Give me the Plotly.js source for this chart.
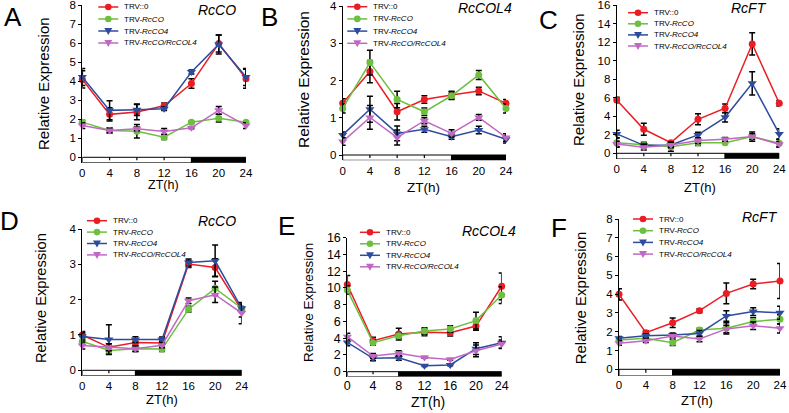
<!DOCTYPE html>
<html>
<head>
<meta charset="utf-8">
<script src="https://cdn.plot.ly/plotly-3.0.1.min.js"></script>
<style>html,body{margin:0;padding:0;background:#fff;}</style>
</head>
<body>
<div id="chart" style="width:789px;height:413px;"></div>
<script>
const W = 789, H = 413;

// x values (ZT hours)
const zt = [0, 4, 8, 12, 16, 20, 24];
const seriesNames = ['TRV::0', 'TRV-<i>RcCO</i>', 'TRV-<i>RcCO4</i>', 'TRV-<i>RcCO/RcCOL4</i>'];
const panelLetters = ['A', 'B', 'C', 'D', 'E', 'F'];
const geneNames = ['RcCO', 'RcCOL4', 'RcFT', 'RcCO', 'RcCOL4', 'RcFT'];
const lightEnd = [16, 16, 16, 8, 8, 8];   // end of light period (h)

// rows: TRV::0, TRV-RcCO, TRV-RcCO4, TRV-RcCO/RcCOL4
const meanA = [
    [4.10, 2.26, 2.38, 2.71, 3.88, 5.99, 4.14],
    [1.85, 1.41, 1.37, 1.06, 1.85, 2.06, 1.85],
    [4.23, 2.47, 2.50, 2.56, 4.49, 5.94, 4.23],
    [1.67, 1.41, 1.50, 1.36, 1.55, 2.47, 1.67]
];
const sdA = [
    [0.45, 0.35, 0.40, 0.15, 0.25, 0.45, 0.50],
    [0.10, 0.15, 0.35, 0.12, 0.05, 0.20, 0.08],
    [0.45, 0.50, 0.30, 0.10, 0.10, 0.50, 0.45],
    [0.15, 0.10, 0.10, 0.15, 0.05, 0.20, 0.15]
];
const meanB = [
    [1.39, 2.24, 1.16, 1.49, 1.61, 1.72, 1.39],
    [1.25, 2.48, 1.49, 1.16, 1.59, 2.15, 1.25],
    [0.54, 1.23, 0.58, 0.69, 0.49, 0.67, 0.42],
    [0.36, 1.01, 0.47, 0.92, 0.58, 1.01, 0.47]
];
const sdB = [
    [0.12, 0.30, 0.22, 0.10, 0.10, 0.10, 0.10],
    [0.12, 0.33, 0.22, 0.10, 0.10, 0.12, 0.12],
    [0.08, 0.35, 0.20, 0.08, 0.07, 0.10, 0.10],
    [0.10, 0.32, 0.20, 0.08, 0.10, 0.08, 0.10]
];
const meanC = [
    [5.76, 2.59, 1.15, 3.67, 4.86, 11.8, 5.40],
    [1.15, 0.90, 0.72, 1.15, 1.15, 1.80, 1.08],
    [2.09, 0.86, 0.90, 1.98, 3.88, 7.55, 2.09],
    [1.00, 0.65, 0.90, 1.37, 1.51, 1.80, 0.97]
];
const sdC = [
    [0.30, 0.65, 0.10, 0.60, 0.45, 1.20, 0.30],
    [0.50, 0.30, 0.50, 0.30, 0.10, 0.50, 0.40],
    [0.40, 0.20, 0.20, 0.30, 0.50, 1.25, 0.55],
    [0.30, 0.30, 0.30, 0.30, 0.20, 0.30, 0.30]
];
const meanD = [
    [1.00, 0.65, 0.79, 0.77, 3.01, 2.91, 1.71],
    [0.82, 0.56, 0.61, 0.60, 1.73, 2.32, 1.76],
    [0.96, 0.87, 0.87, 0.87, 3.05, 3.10, 1.76],
    [0.70, 0.65, 0.61, 0.71, 1.97, 2.14, 1.62]
];
const sdD = [
    [0.10, 0.10, 0.08, 0.07, 0.10, 0.25, 0.20],
    [0.10, 0.10, 0.08, 0.07, 0.08, 0.20, 0.10],
    [0.10, 0.42, 0.08, 0.07, 0.10, 0.45, 0.10],
    [0.10, 0.10, 0.08, 0.07, 0.08, 0.22, 0.30]
];
const meanE = [
    [10.4, 3.70, 4.50, 4.70, 4.66, 5.45, 10.2],
    [9.75, 3.46, 4.30, 4.86, 5.10, 6.10, 9.15],
    [3.50, 1.60, 1.67, 0.72, 0.80, 2.75, 3.46],
    [4.18, 1.87, 2.19, 1.71, 1.47, 2.50, 3.30]
];
const sdE = [
    [1.10, 0.40, 0.70, 0.40, 0.40, 0.50, 1.60],
    [0.50, 0.30, 0.30, 0.40, 0.40, 1.00, 1.00],
    [0.40, 0.30, 0.30, 0.10, 0.10, 0.70, 0.70],
    [0.40, 0.30, 0.30, 0.10, 0.10, 0.70, 0.50]
];
const meanF = [
    [3.99, 1.95, 2.48, 3.12, 4.04, 4.54, 4.70],
    [1.56, 1.65, 1.42, 2.09, 2.18, 2.54, 2.66],
    [1.65, 1.79, 1.83, 1.91, 2.84, 3.07, 3.01],
    [1.38, 1.52, 1.77, 1.61, 2.15, 2.32, 2.18]
];
const sdF = [
    [0.30, 0.10, 0.25, 0.10, 0.55, 0.25, 0.93],
    [0.10, 0.10, 0.15, 0.10, 0.30, 0.20, 0.25],
    [0.10, 0.10, 0.10, 0.15, 0.28, 0.20, 0.35],
    [0.10, 0.10, 0.10, 0.15, 0.20, 0.20, 0.25]
];
const yMax = [8, 4, 16, 4, 16, 8];
const yStep = [1, 1, 2, 1, 2, 1];

const means = [meanA, meanB, meanC, meanD, meanE, meanF];
const sds = [sdA, sdB, sdC, sdD, sdE, sdF];

const colors = ['#ec1c24', '#6cbf3f', '#2d4c9e', '#c068c4'];
const symbols = ['circle', 'circle', 'triangle-down', 'triangle-down'];
const font = 'Arial, "Liberation Sans", sans-serif';

// pixel boxes of each panel: x of ZT0 / ZT24, y of top tick, y of zero, y of bar bottom
const boxes = [
    {l: 82.3, r: 246, top: 5.3, zero: 157.3, bot: 162.7, tick: 11.5, stand: 2},
    {l: 342.7, r: 506, top: 6, zero: 155, bot: 160.3, tick: 11.5, stand: 2},
    {l: 616.7, r: 779.3, top: 5, zero: 153.3, bot: 158.8, tick: 11.5, stand: 2},
    {l: 82.3, r: 241.7, top: 229, zero: 370.3, bot: 375.7, tick: 11.5, stand: 2},
    {l: 347.3, r: 501.7, top: 237.7, zero: 371.7, bot: 376.5, tick: 12.5, stand: 0},
    {l: 619, r: 780, top: 219, zero: 369.3, bot: 375.5, tick: 11.5, stand: 1}
];
// decoration positions (px)
const letterPos = [[12.7, 17.3], [269.3, 17.3], [548.3, 20], [9.3, 220.7], [286, 226], [559.3, 228.3]];
const genePos = [[217, 10], [484.7, 8.3], [749, 8.3], [216.7, 220.7], [488.7, 230.7], [760.3, 216.7]];
const yTitlePos = [[43, 84, 15], [303, 80, 15.5], [578, 80, 15], [41.7, 298.3, 14.7], [308.3, 302.7, 13.5], [580, 298.3, 15]];
const xTitlePos = [[163, 184.5, 12.5], [423.3, 187, 13.5], [700, 187, 13], [161.7, 399.3, 13], [428.3, 401.5, 14], [696.7, 400.5, 13]];
const legendPos = [[98.3, 7, 12], [347.3, 6.7, 12.2], [628, 12.7, 11.1], [87, 220.7, 11.4], [360, 232.3, 11.5], [633, 219, 11.7]];

const px = v => v / W;
const py = v => 1 - v / H;

const traces = [];
const layout = {
    width: W, height: H,
    margin: {l: 0, r: 0, t: 0, b: 0},
    paper_bgcolor: '#fff', plot_bgcolor: 'rgba(0,0,0,0)',
    showlegend: false,
    font: {family: font, color: '#000'},
    shapes: [], annotations: []
};

for (let p = 0; p < 6; p++) {
    const s = p === 0 ? '' : String(p + 1);
    const b = boxes[p];
    const pad = (b.bot - b.zero) / (b.zero - b.top) * yMax[p];

    for (let k = 0; k < 4; k++) {
        traces.push({
            x: zt, y: means[p][k],
            type: 'scatter', mode: 'lines+markers',
            xaxis: 'x' + s, yaxis: 'y' + s,
            name: seriesNames[k], cliponaxis: false,
            line: {color: colors[k], width: 1.5},
            marker: {symbol: symbols[k], size: k < 2 ? 7 : 8, color: colors[k]},
            error_y: {type: 'data', array: sds[p][k], visible: true, color: '#000', thickness: 1.5, width: 3}
        });
    }

    layout['xaxis' + s] = {
        domain: [px(b.l), px(b.r)], anchor: 'y' + s,
        range: [0, 24], tickvals: zt, ticks: '', ticklabelstandoff: b.stand,
        showline: false, showgrid: false, zeroline: false,
        tickfont: {size: b.tick, family: font}
    };
    layout['yaxis' + s] = {
        domain: [py(b.bot), py(b.top)], anchor: 'x' + s,
        range: [-pad, yMax[p]], tick0: 0, dtick: yStep[p],
        ticks: 'outside', ticklen: 3, tickwidth: 1, tickcolor: '#000',
        ticklabeloverflow: 'allow',
        showline: true, linecolor: '#000', linewidth: 1,
        showgrid: false, zeroline: false,
        tickfont: {size: b.tick, family: font}
    };

    // light / dark bar with small ticks every 4 h in the light part
    layout.shapes.push({type: 'rect', xref: 'x' + s, yref: 'y' + s, x0: 0, x1: lightEnd[p], y0: -pad, y1: 0,
        fillcolor: '#fff', line: {color: '#000', width: 1}});
    layout.shapes.push({type: 'rect', xref: 'x' + s, yref: 'y' + s, x0: lightEnd[p], x1: 24, y0: -pad, y1: 0,
        fillcolor: '#000', line: {color: '#000', width: 1}});
    for (let t = 4; t < lightEnd[p]; t += 4) {
        layout.shapes.push({type: 'line', xref: 'x' + s, yref: 'y' + s, x0: t, x1: t, y0: -pad * 0.55, y1: 0,
            line: {color: '#000', width: 1.2}});
    }

    // legend
    const lg = legendPos[p];
    for (let k = 0; k < 4; k++) {
        const ly = lg[1] + k * lg[2];
        layout.shapes.push({type: 'line', xref: 'paper', yref: 'paper',
            x0: px(lg[0]), x1: px(lg[0] + 20), y0: py(ly), y1: py(ly),
            line: {color: colors[k], width: 1.5}});
        if (k < 2) {
            layout.shapes.push({type: 'circle', xref: 'paper', yref: 'paper',
                xsizemode: 'pixel', ysizemode: 'pixel', xanchor: px(lg[0] + 10), yanchor: py(ly),
                x0: -3.3, x1: 3.3, y0: -3.3, y1: 3.3, fillcolor: colors[k], line: {width: 0}});
        } else {
            layout.shapes.push({type: 'path', xref: 'paper', yref: 'paper',
                xsizemode: 'pixel', ysizemode: 'pixel', xanchor: px(lg[0] + 10), yanchor: py(ly),
                path: 'M-4,3 L4,3 L0,-4 Z', fillcolor: colors[k], line: {width: 0}});
        }
        layout.annotations.push({xref: 'paper', yref: 'paper', x: px(lg[0] + 24), y: py(ly),
            xanchor: 'left', yanchor: 'middle', showarrow: false, text: seriesNames[k],
            font: {size: 8, family: font}});
    }

    layout.annotations.push({xref: 'paper', yref: 'paper', x: px(letterPos[p][0]), y: py(letterPos[p][1]),
        xanchor: 'center', yanchor: 'middle', showarrow: false, text: panelLetters[p],
        font: {size: 26, family: font}});
    layout.annotations.push({xref: 'paper', yref: 'paper', x: px(genePos[p][0]), y: py(genePos[p][1]),
        xanchor: 'center', yanchor: 'middle', showarrow: false, text: '<i>' + geneNames[p] + '</i>',
        font: {size: 14, family: font}});
    layout.annotations.push({xref: 'paper', yref: 'paper', x: px(yTitlePos[p][0]), y: py(yTitlePos[p][1]),
        xanchor: 'center', yanchor: 'middle', showarrow: false, text: 'Relative Expression', textangle: -90,
        font: {size: yTitlePos[p][2], family: font}});
    layout.annotations.push({xref: 'paper', yref: 'paper', x: px(xTitlePos[p][0]), y: py(xTitlePos[p][1]),
        xanchor: 'center', yanchor: 'middle', showarrow: false, text: 'ZT(h)',
        font: {size: xTitlePos[p][2], family: font}});
}

Plotly.newPlot('chart', traces, layout, {staticPlot: true});
</script>
</body>
</html>
